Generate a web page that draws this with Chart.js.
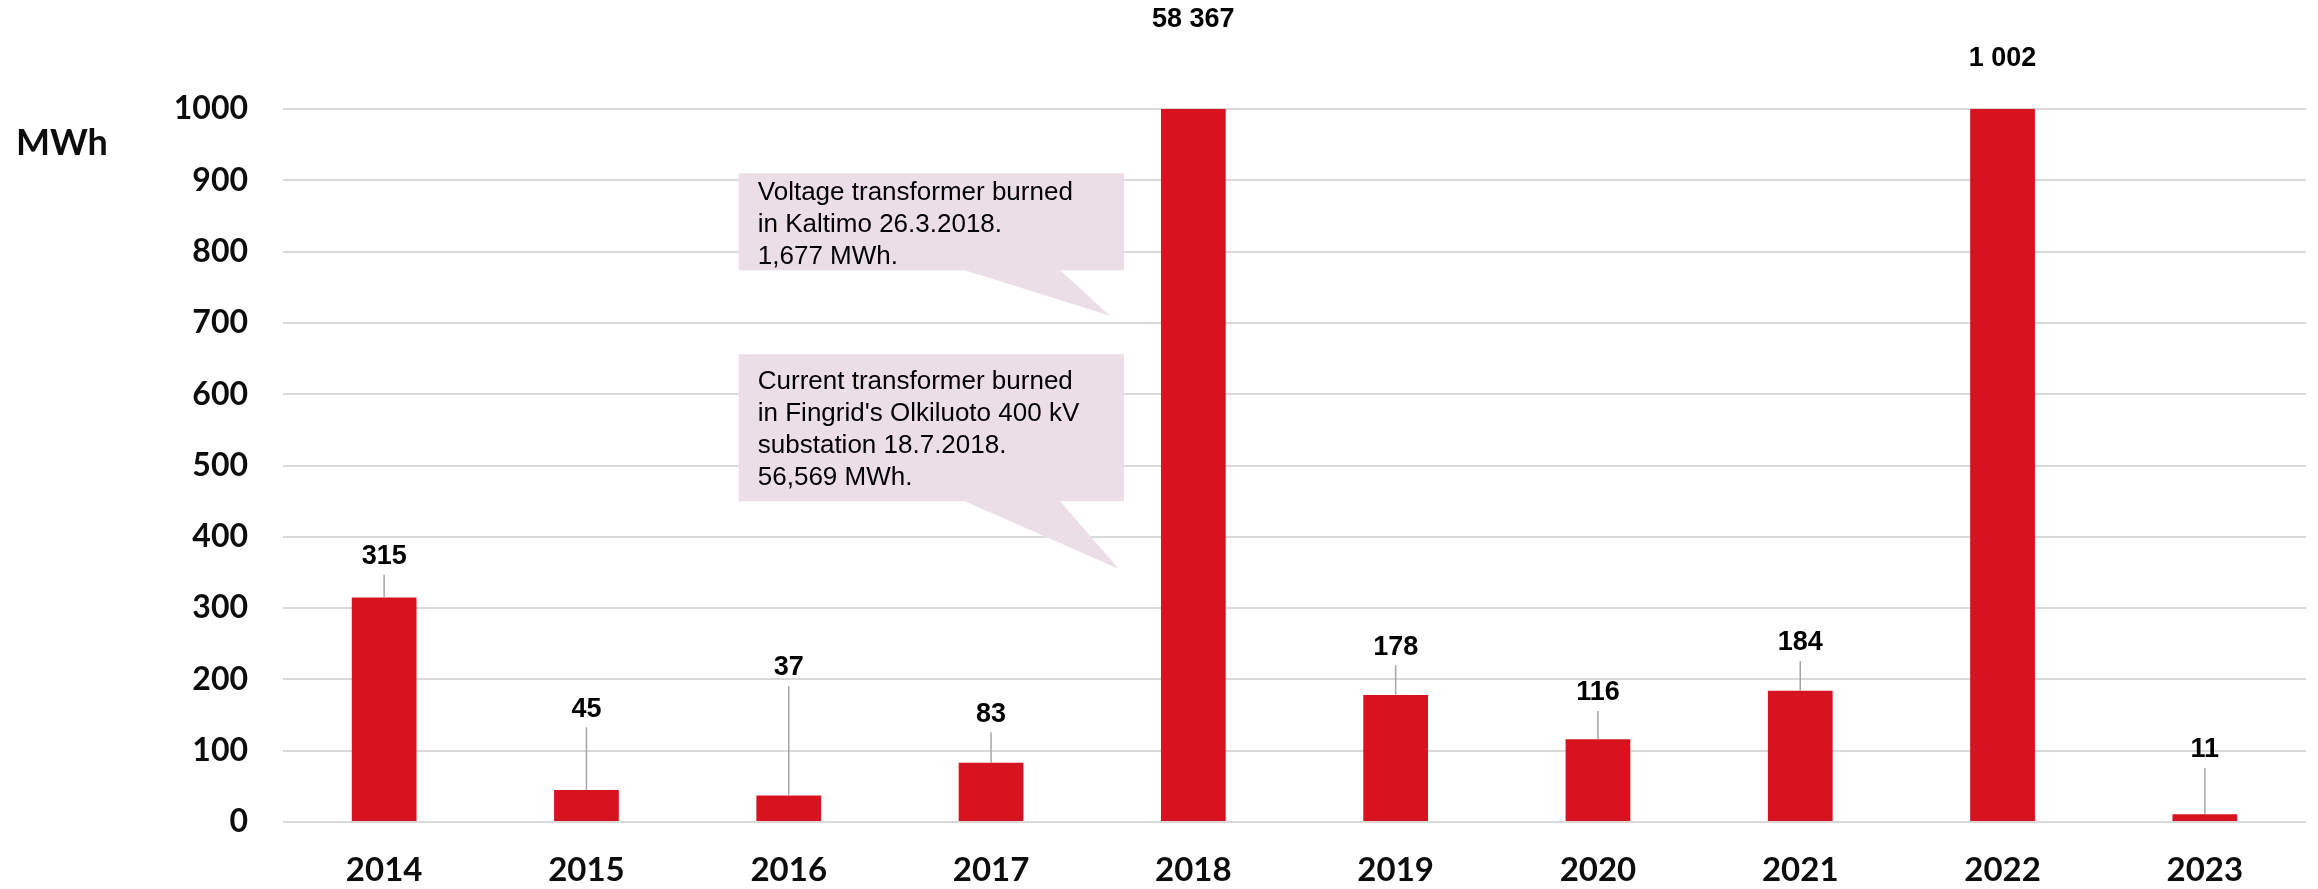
<!DOCTYPE html>
<html>
<head>
<meta charset="utf-8">
<title>Outages MWh</title>
<script src="https://cdn.jsdelivr.net/npm/chart.js@4.4.1/dist/chart.umd.min.js"></script>
<style>
  html, body { margin: 0; padding: 0; background: #fff; }
  #wrap { width: 2318px; height: 889px; }
</style>
</head>
<body>
<div id="wrap"><canvas id="chart" width="2318" height="889"></canvas></div>
<script>
const years = ['2014', '2015', '2016', '2017', '2018', '2019', '2020', '2021', '2022', '2023'];
const mwh = [315, 45, 37, 83, 58367, 178, 116, 184, 1002, 11];
const yMax = 1000;
const yStep = 100;
const unit = 'MWh';
const notes = [
    ['Voltage transformer burned', 'in Kaltimo 26.3.2018.', '1,677 MWh.'],
    ["Current transformer burned", "in Fingrid's Olkiluoto 400 kV", 'substation 18.7.2018.', '56,569 MWh.']
];

const red = 'rgb(215, 19, 31)';
const grid = 'rgb(217, 217, 217)';
const pink = 'rgb(236, 222, 230)';
const leader = 'rgb(166, 166, 166)';

function spaced(v) {
    return String(v).replace(/\B(?=(\d{3})+(?!\d))/g, ' ');
}

// value labels, placed at a y level (in MWh) like the moved labels in the original
const valueLabels = {
    id: 'valueLabels',
    afterDatasetsDraw(chart, args, opts) {
        const ctx = chart.ctx;
        const y = chart.scales.y;
        const meta = chart.getDatasetMeta(0);
        ctx.save();
        ctx.font = 'bold 27px "Liberation Sans", Arial, sans-serif';
        ctx.textAlign = 'center';
        ctx.textBaseline = 'middle';
        meta.data.forEach((bar, i) => {
            const ly = y.getPixelForValue(opts.levels[i]);
            ctx.fillStyle = '#000';
            ctx.fillText(spaced(mwh[i]), bar.x, ly);
            if (mwh[i] <= yMax) {
                ctx.strokeStyle = leader;
                ctx.lineWidth = 1.5;
                ctx.beginPath();
                ctx.moveTo(bar.x, ly + 18);
                ctx.lineTo(bar.x, bar.y);
                ctx.stroke();
            }
        });
        ctx.restore();
    }
};

// speech bubble notes, anchored on the scales
const callouts = {
    id: 'callouts',
    afterDatasetsDraw(chart, args, opts) {
        const ctx = chart.ctx;
        const x = chart.scales.x;
        const y = chart.scales.y;
        ctx.save();
        opts.boxes.forEach((b, n) => {
            const l = x.getPixelForValue(b.left), r = x.getPixelForValue(b.right);
            const t = y.getPixelForValue(b.top), bt = y.getPixelForValue(b.bottom);
            ctx.fillStyle = pink;
            ctx.beginPath();
            ctx.moveTo(l, t);
            ctx.lineTo(r, t);
            ctx.lineTo(r, bt);
            ctx.lineTo(x.getPixelForValue(b.tailB), bt);
            ctx.lineTo(x.getPixelForValue(b.tipX), y.getPixelForValue(b.tipY));
            ctx.lineTo(x.getPixelForValue(b.tailA), bt);
            ctx.lineTo(l, bt);
            ctx.closePath();
            ctx.fill();

            ctx.fillStyle = '#000';
            ctx.font = '26px "Liberation Sans", Arial, sans-serif';
            ctx.textAlign = 'left';
            ctx.textBaseline = 'alphabetic';
            notes[n].forEach((line, k) => {
                ctx.fillText(line, l + 19, t + b.first + k * 32);
            });
        });
        ctx.restore();
    }
};

const unitTitle = {
    id: 'unitTitle',
    afterDraw(chart) {
        const ctx = chart.ctx;
        ctx.save();
        ctx.font = 'bold 36px Lato, sans-serif';
        ctx.fillStyle = '#0d0d0d';
        ctx.textAlign = 'left';
        ctx.textBaseline = 'middle';
        ctx.fillText(unit, 16, 143);
        ctx.restore();
    }
};

var ctx = document.getElementById('chart').getContext('2d');

var chart = new Chart(ctx, {
    type: 'bar',
    data: {
        labels: years,
        datasets: [{
            data: mwh,
            backgroundColor: red,
            borderWidth: 0,
            barPercentage: 0.32,
            categoryPercentage: 1.0
        }]
    },
    plugins: [callouts, valueLabels, unitTitle],
    options: {
        responsive: false,
        animation: false,
        layout: {
            padding: { top: 109, right: 12, left: 0, bottom: 0 }
        },
        plugins: {
            legend: { display: false },
            tooltip: { enabled: false },
            valueLabels: {
                levels: [372, 158, 216, 151, 1125, 245, 181, 251, 1071, 101]
            },
            callouts: {
                boxes: [
                    { left: 1.753, right: 3.657, top: 910, bottom: 774, tailA: 2.871, tailB: 3.341, tipX: 3.588, tipY: 710, first: 27 },
                    { left: 1.753, right: 3.657, top: 656, bottom: 450, tailA: 2.871, tailB: 3.341, tipX: 3.632, tipY: 355, first: 35 }
                ]
            }
        },
        scales: {
            x: {
                afterFit: function(scale) { scale.height = 67; },
                grid: { display: false, drawTicks: false },
                border: { display: false },
                ticks: {
                    color: '#0d0d0d',
                    padding: 29,
                    font: { family: 'Lato', weight: 'bold', size: 33 }
                }
            },
            y: {
                min: 0,
                max: yMax,
                afterFit: function(scale) { scale.width = 283; },
                grid: { color: grid, lineWidth: 2, drawTicks: false },
                border: { display: false },
                ticks: {
                    stepSize: yStep,
                    color: '#0d0d0d',
                    padding: 35,
                    font: { family: 'Lato', weight: 'bold', size: 32 },
                    callback: function(v) { return String(v); }
                }
            }
        }
    }
});
</script>
</body>
</html>
